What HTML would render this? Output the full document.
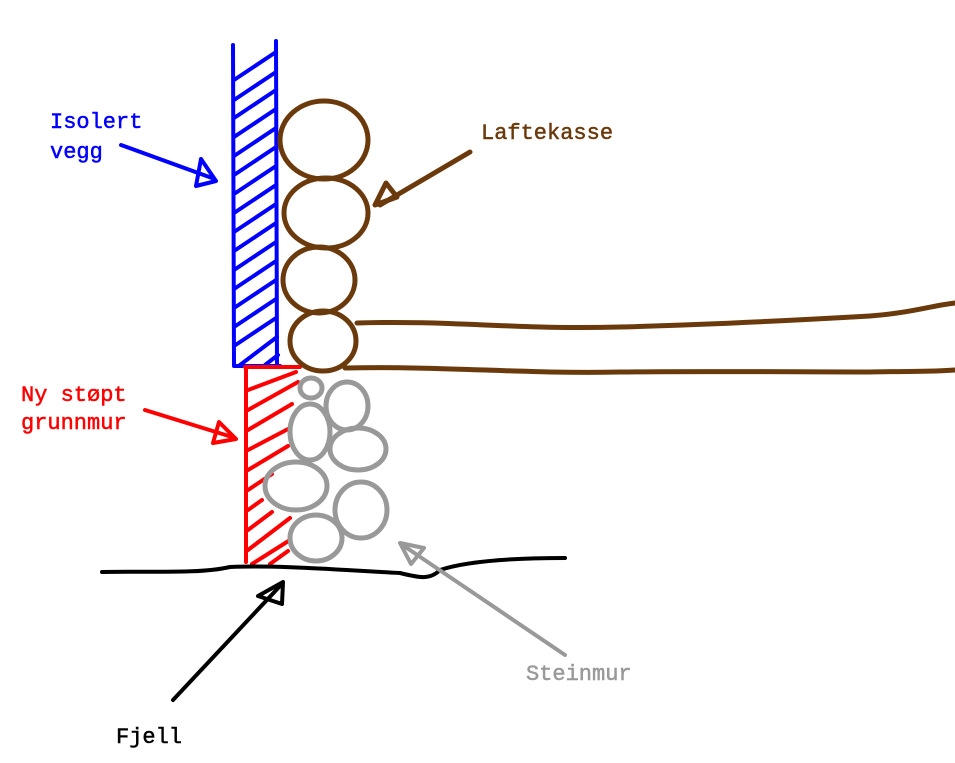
<!DOCTYPE html>
<html><head><style>
html,body{margin:0;padding:0;background:#fff;width:955px;height:763px;overflow:hidden}
svg{display:block}
text{font-family:"Liberation Mono",monospace;font-size:22px;font-weight:normal;stroke-width:0.5}
</style></head><body>
<svg width="955" height="763" viewBox="0 0 955 763" xmlns="http://www.w3.org/2000/svg">
<g fill="none" stroke-linecap="round" stroke-linejoin="round">
<g stroke="#0000ff" stroke-width="4">
<path d="M233 45 L234 366 L280 366 M276 41 L277 366"/>
<path d="M234 80 L276 52 M234 100 L276 72 M234 118 L276 90 M234 137 L276 109 M234 156 L276 128 M234 175 L276 147 M234 194 L276 166 M234 213 L276 185 M234 232 L276 204 M234 251 L276 223 M234 270 L276 242 M234 289 L276 261 M234 308 L276 280 M234 327 L276 299 M234 346 L276 318 M240 365 L277 337 M265 365 L278 355"/>
</g>
<g stroke="#ff0000" stroke-width="4">
<path d="M246 368 L246 562 M245 367 L300 367"/>
<path d="M248 390 L296 372 M248 410 L298 382 M248 430 L292 404 M248 450 L290 428 M248 470 L288 446 M248 490 L272 474 M248 510 L262 500 M248 530 L272 512 M248 550 L290 518 M252 564 L290 540 M270 564 L288 551"/>
</g>
<g stroke="#999999" stroke-width="5">
<ellipse cx="311" cy="388" rx="11" ry="10"/>
<ellipse cx="347" cy="406" rx="21" ry="24"/>
<ellipse cx="310" cy="432" rx="20" ry="28"/>
<ellipse cx="358" cy="449" rx="28" ry="21"/>
<ellipse cx="296" cy="486" rx="31" ry="24"/>
<ellipse cx="361" cy="510" rx="26" ry="28"/>
<ellipse cx="316" cy="538" rx="26" ry="23"/>
</g>
<g stroke="#6b3a0c" stroke-width="5">
<ellipse cx="324" cy="140" rx="44" ry="39"/>
<ellipse cx="326" cy="213" rx="42" ry="35"/>
<ellipse cx="319" cy="280" rx="36" ry="33"/>
<ellipse cx="323" cy="341" rx="33" ry="30"/>
<path d="M357 323 C450 320 520 330 620 327 C700 325 800 320 870 316 C910 313 930 306 955 303"/>
<path d="M345 368 C450 366 520 374 620 372 C700 371 800 372 870 372 C910 371 930 372 955 370"/>
<path d="M470 152 L380 205"/>
<path d="M375 205 L386 183 L397 197 Z"/>
</g>
<path d="M102 572 C150 571 200 574 230 567 C280 565 340 570 400 573 C420 578 430 580 440 570 C470 560 520 558 565 558" stroke="#000" stroke-width="4"/>
<g stroke="#0000ff" stroke-width="4"><path d="M121 145 L212 178"/><path d="M216 181 L196 186 L201 159 Z"/></g>
<g stroke="#ff0000" stroke-width="4"><path d="M145 410 L232 437"/><path d="M236 439 L213 443 L219 422 Z"/></g>
<g stroke="#000" stroke-width="4"><path d="M173 700 L280 586"/><path d="M283 582 L282 604 L258 596 Z"/></g>
<g stroke="#999999" stroke-width="4"><path d="M565 655 L404 546"/><path d="M400 543 L424 548 L411 564 Z"/></g>
</g>
<text x="50" y="128" fill="#0000ff" stroke="#0000ff">Isolert</text>
<text x="50" y="158" fill="#0000ff" stroke="#0000ff">vegg</text>
<text x="481" y="139" fill="#6b3a0c" stroke="#6b3a0c">Laftekasse</text>
<text x="21" y="401" fill="#ff0000" stroke="#ff0000">Ny støpt</text>
<text x="21" y="429" fill="#ff0000" stroke="#ff0000">grunnmur</text>
<text x="526" y="680" fill="#999999" stroke="#999999">Steinmur</text>
<text x="116" y="743" fill="#000" stroke="#000">Fjell</text>
</svg>
</body></html>
